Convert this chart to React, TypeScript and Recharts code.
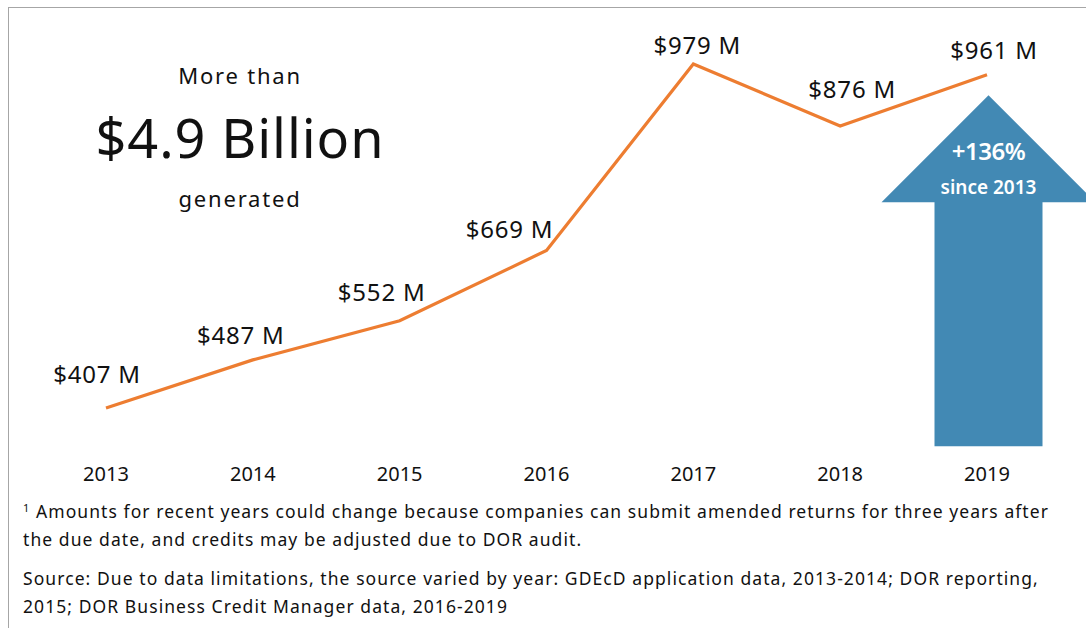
import React from "react";
import { LineChart, Line, XAxis, YAxis, ReferenceDot } from "recharts";

const years = ["2013", "2014", "2015", "2016", "2017", "2018", "2019"];
const credits = [407, 487, 552, 669, 979, 876, 961];
const arrowTipValue = 927;
const growthLabel = "+136%";
const growthSub = "since 2013";

const data = years.map((y, i) => ({ year: y, value: credits[i] }));

const FONT = "'Noto Sans', sans-serif";
const ORANGE = "#ED7D31";
const BLUE = "#4289B4";

const labelDx = [-9, -12, -18, -37, 4, 12, 7];
const labelUp = [25, 16, 20, 12, 10, 28, 16];

const ValueLabel = (props: any) => {
  const { x, y, value, index } = props;
  return (
    <text
      x={x + labelDx[index]}
      y={y - labelUp[index]}
      textAnchor="middle"
      fontFamily={FONT}
      fontSize={24}
      letterSpacing={0.8}
      fill="#111"
    >
      {`$${value} M`}
    </text>
  );
};

const Arrow = (props: any) => {
  const { cx: cx0, cy } = props;
  if (cx0 == null || cy == null) return null;
  const cx = cx0 + 1.5;
  const headH = 107;
  const headHalf = 107;
  const shaftHalf = 54;
  const bottom = cy + 351;
  const d = `M${cx},${cy} L${cx + headHalf},${cy + headH} L${cx + shaftHalf},${cy + headH} L${cx + shaftHalf},${bottom} L${cx - shaftHalf},${bottom} L${cx - shaftHalf},${cy + headH} L${cx - headHalf},${cy + headH} Z`;
  return (
    <g>
      <path d={d} fill={BLUE} />
      <text x={cx} y={cy + 65} textAnchor="middle" fontFamily={FONT} fontSize={24} fontWeight={600} fill="#fff" letterSpacing={-0.5}>
        {growthLabel}
      </text>
      <text x={cx} y={cy + 99} textAnchor="middle" fontFamily={FONT} fontSize={19} fontWeight={600} fill="#fff">
        {growthSub}
      </text>
    </g>
  );
};

export default function App() {
  return (
    <div style={{ position: "absolute", left: 0, top: 0, width: 1086, height: 628, overflow: "hidden", background: "#fff", fontFamily: FONT }}>
      <div style={{ position: "absolute", left: 8, top: 7, width: 1100, height: 700, borderTop: "1.5px solid #a6a6a6", borderLeft: "1.5px solid #a6a6a6" }} />
      <div style={{ position: "absolute", left: 0, top: 0 }}>
        <LineChart width={1086} height={628} data={data} margin={{ top: 51.4, right: 99, bottom: 149.7, left: 106 }}>
          <XAxis
            dataKey="year"
            scale="point"
            axisLine={false}
            tickLine={false}
            tickSize={0}
            tickMargin={18}
            height={30}
            interval={0}
            tick={{ fontSize: 20, fill: "#111", fontFamily: FONT }}
          />
          <YAxis hide domain={[340, 1000]} />
          <ReferenceDot x="2019" y={arrowTipValue} r={0} shape={Arrow} isFront={false} />
          <Line
            type="linear"
            dataKey="value"
            stroke={ORANGE}
            strokeWidth={3.2}
            dot={false}
            activeDot={false}
            isAnimationActive={false}
            label={ValueLabel}
          />
        </LineChart>
      </div>
      <div style={{ position: "absolute", left: 140, width: 200, top: 60, textAlign: "center", fontSize: 22, letterSpacing: 1.8, color: "#111", lineHeight: "30px" }}>
        More than
      </div>
      <div style={{ position: "absolute", left: 40, width: 400, top: 102, textAlign: "center", fontSize: 54, color: "#111", lineHeight: "70px", letterSpacing: 0.9 }}>
        $4.9 Billion
      </div>
      <div style={{ position: "absolute", left: 140, width: 200, top: 183, textAlign: "center", fontSize: 22, letterSpacing: 1.8, color: "#111", lineHeight: "30px" }}>
        generated
      </div>
      <div style={{ position: "absolute", left: 23, top: 494, fontSize: 17.5, letterSpacing: 1.07, color: "#111", lineHeight: "28px", whiteSpace: "nowrap" }}>
        <div><sup style={{ fontSize: 11, verticalAlign: "6px" }}>1</sup> Amounts for recent years could change because companies can submit amended returns for three years after</div>
        <div>the due date, and credits may be adjusted due to DOR audit.</div>
        <div style={{ marginTop: 11 }}>Source: Due to data limitations, the source varied by year: GDEcD application data, 2013-2014; DOR reporting,</div>
        <div>2015; DOR Business Credit Manager data, 2016-2019</div>
      </div>
    </div>
  );
}
